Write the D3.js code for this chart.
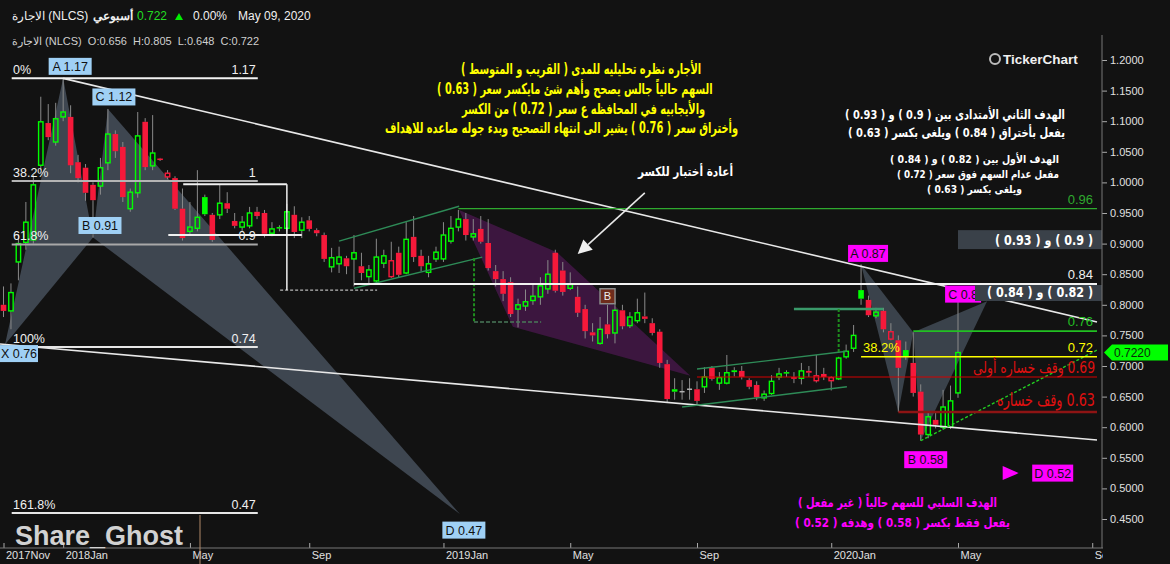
<!DOCTYPE html>
<html><head><meta charset="utf-8">
<script src="https://cdn.jsdelivr.net/npm/d3@7"></script>
<style>
html,body{margin:0;padding:0;background:#121212;}
svg{display:block;}
text{font-family:"Liberation Sans",Arial,sans-serif;}
.ar{font-family:"DejaVu Sans",sans-serif;font-weight:bold;direction:rtl;unicode-bidi:embed;}
</style></head><body>
<svg id="c" width="1170" height="564"></svg>
<script>
// ---------------- DATA ----------------
const opens=[0.80,0.79,0.87,0.902,0.906,1.028,1.097,1.066,1.107,1.107,1.033,1.024,0.996,0.994,1.032,1.079,1.058,0.957,0.983,1.099,1.027,1.039,1.009,1.007,0.957,0.92,0.925,0.976,0.947,0.947,0.966,0.937,0.927,0.929,0.952,0.95,0.917,0.927,0.925,0.947,0.922,0.938,0.922,0.914,0.862,0.867,0.876,0.875,0.863,0.846,0.839,0.868,0.846,0.885,0.852,0.911,0.88,0.853,0.875,0.875,0.904,0.927,0.94,0.911,0.924,0.901,0.855,0.842,0.837,0.793,0.798,0.807,0.813,0.826,0.885,0.856,0.827,0.813,0.793,0.755,0.737,0.768,0.754,0.791,0.766,0.774,0.781,0.77,0.756,0.703,0.662,0.658,0.662,0.662,0.666,0.697,0.672,0.672,0.693,0.692,0.677,0.669,0.648,0.655,0.682,0.69,0.682,0.68,0.692,0.676,0.687,0.676,0.679,0.715,0.729,0.824,0.808,0.782,0.79,0.744,0.742,0.726,0.705,0.658,0.588,0.612,0.60,0.60,0.656];
const highs=[0.83,0.835,0.915,0.968,1.012,1.14,1.128,1.13,1.17,1.126,1.045,1.03,1.0,1.04,1.12,1.085,1.066,0.99,1.115,1.105,1.11,1.04,1.02,1.01,0.99,0.968,1.02,0.98,0.95,0.996,0.984,0.95,0.945,0.96,0.96,0.955,0.935,0.93,0.965,0.961,0.943,0.945,0.925,0.918,0.893,0.895,0.88,0.914,0.885,0.865,0.908,0.89,0.903,0.895,0.935,0.945,0.89,0.88,0.895,0.935,0.945,0.955,0.95,0.94,0.945,0.94,0.865,0.855,0.845,0.81,0.825,0.835,0.845,0.873,0.89,0.87,0.853,0.83,0.80,0.77,0.78,0.80,0.805,0.80,0.788,0.81,0.82,0.778,0.76,0.71,0.68,0.677,0.68,0.675,0.698,0.70,0.69,0.718,0.698,0.70,0.68,0.675,0.66,0.685,0.697,0.693,0.69,0.705,0.70,0.718,0.697,0.683,0.715,0.735,0.767,0.866,0.815,0.795,0.795,0.77,0.75,0.74,0.755,0.67,0.625,0.625,0.661,0.668,0.805];
const lows=[0.78,0.76,0.84,0.89,0.90,1.02,1.069,1.06,1.10,1.015,1.0,0.97,0.91,0.98,1.02,1.04,0.968,0.952,0.975,1.02,1.02,1.035,1.005,0.955,0.905,0.914,0.92,0.945,0.903,0.94,0.95,0.925,0.92,0.925,0.94,0.91,0.912,0.92,0.92,0.909,0.909,0.92,0.912,0.87,0.853,0.852,0.85,0.83,0.84,0.835,0.835,0.86,0.844,0.845,0.85,0.87,0.855,0.845,0.87,0.87,0.90,0.92,0.905,0.905,0.90,0.856,0.83,0.806,0.78,0.763,0.79,0.80,0.80,0.818,0.82,0.815,0.824,0.78,0.745,0.74,0.735,0.745,0.737,0.76,0.762,0.77,0.77,0.75,0.697,0.64,0.645,0.645,0.645,0.636,0.656,0.676,0.661,0.67,0.683,0.678,0.662,0.644,0.643,0.653,0.677,0.682,0.672,0.67,0.682,0.673,0.677,0.66,0.677,0.712,0.723,0.80,0.78,0.778,0.755,0.742,0.625,0.71,0.65,0.578,0.582,0.598,0.596,0.597,0.648];
const closes=[0.79,0.82,0.90,0.935,0.996,1.099,1.074,1.104,1.115,1.028,1.007,0.983,0.971,1.024,1.079,1.051,0.976,0.984,1.076,1.025,1.048,1.037,1.015,0.957,0.909,0.927,0.943,0.948,0.906,0.966,0.957,0.929,0.935,0.95,0.945,0.916,0.924,0.925,0.952,0.919,0.935,0.924,0.917,0.875,0.877,0.878,0.863,0.885,0.852,0.857,0.878,0.88,0.872,0.849,0.907,0.878,0.863,0.867,0.886,0.914,0.925,0.94,0.914,0.916,0.903,0.86,0.842,0.818,0.785,0.80,0.805,0.814,0.831,0.85,0.823,0.821,0.833,0.787,0.757,0.75,0.76,0.752,0.791,0.765,0.78,0.787,0.777,0.754,0.705,0.646,0.658,0.658,0.662,0.643,0.682,0.679,0.681,0.689,0.690,0.682,0.666,0.649,0.654,0.675,0.687,0.688,0.679,0.692,0.689,0.684,0.682,0.681,0.713,0.724,0.75,0.81,0.783,0.788,0.76,0.756,0.697,0.715,0.656,0.588,0.617,0.604,0.633,0.643,0.722];
const xTickIdx=[0,8,25,41,59,76,93,111,128,146];
const xTickLabels=["2017Nov","2018Jan","May","Sep","2019Jan","May","Sep","2020Jan","May","Sep"];
const yTickValues=[0.45,0.5,0.55,0.6,0.65,0.7,0.75,0.8,0.85,0.9,0.95,1.0,1.05,1.1,1.15,1.2];
const lastPrice=0.722;

// harmonic pattern points [candle index, price]
const leftPts={X:[0.2,0.735],A:[8,1.17],B:[12,0.91],C:[14,1.12],D:[61.2,0.458]};
const leftLabels={X:"X 0.76",A:"A 1.17",B:"B 0.91",C:"C 1.12",D:"D 0.47"};
const rightPts={A:[115,0.866],P:[122,0.755],Q:[120,0.625],B:[123,0.578],C:[131.9,0.806],D:[140.7,0.525]};
const rightLabels={A:"A 0.87",B:"B 0.58",C:"C 0.8",D:"D 0.52"};
const purpleZone=[[61.1,0.955],[74.2,0.886],[92.1,0.684],[68.3,0.764]];
const fibHigh=1.17, fibLow=0.731;
const fibRatios=[0,0.382,0.618,1,1.618];
const fibPct=["0%","38.2%","61.8%","100%","161.8%"];
const fibVal=["1.17","1","0.9","0.74","0.47"];
const END=146.64;
const trendA=[8,1.17,END,0.772];
const trendX=[-0.47,0.736,END,0.579];
const channel1=[[45,0.904,61.1,0.961],[47,0.827,64.2,0.878]];
const channel2=[[93,0.695,113.1,0.724],[91,0.633,113.1,0.666]];
const levelLines=[
 {p:0.834,i0:47,label:"0.84",color:"#f2f2f2",w:2},
 {p:0.957,i0:61,label:"0.96",color:"#2faa2f",w:1.2},
 {p:0.757,i0:122,label:"0.76",color:"#22c022",w:1.6},
 {p:0.715,i0:115,label:"0.72",color:"#ffff00",w:1.6},
 {p:0.682,i0:93,label:"",color:"#d40000",w:1.2},
 {p:0.625,i0:120,label:"",color:"#8e1414",w:2.5}
];
const arText={
 y1:"الأجاره نظره تحليليه للمدى (  القريب و المتوسط )",
 y2:"السهم حالياً جالس يصحح وأهم شئ مايكسر سعر ( 0.63 )",
 y3:"والأيجابيه في المحافظه ع سعر ( 0.72 ) من الكسر",
 y4:"وأختراق سعر ( 0.76 ) يشير الى انتهاء التصحيح وبدء جوله صاعده للاهداف",
 retest:"أعادة أختبار للكسر",
 t2a:"الهدف الثاني الأمتدادى بين ( 0.9 ) و ( 0.93 )",
 t2b:"يفعل بأختراق ( 0.84 ) ويلغى بكسر ( 0.63 )",
 t1a:"الهدف الأول بين ( 0.82 ) و ( 0.84 )",
 t1b:"مفعل عدام السهم فوق سعر ( 0.72 )",
 t1c:"ويلغى بكسر ( 0.63 )",
 box1:"( 0.9 ) و ( 0.93 )",
 box2:"( 0.82 ) و ( 0.84 )",
 neg1:"الهدف السلبي للسهم حالياً ( غير مفعل )",
 neg2:"يفعل فقط بكسر ( 0.58 ) وهدفه ( 0.52 )",
 stop1:"0.69 وقف خساره أولى",
 stop2:"0.63 وقف خساره"
};

// ---------------- CHART ----------------
const svg=d3.select('#c');
svg.append('rect').attr('width',1170).attr('height',564).attr('fill','#121212');
const xs=d3.scaleLinear().domain([0,128]).range([3.5,958]);
const ys=d3.scaleLinear().domain([0.45,1.2]).range([519,60]);
const P=d=>[xs(d[0]),ys(d[1])];
const defs=svg.append('defs');
defs.append('clipPath').attr('id','plot').append('rect').attr('x',0).attr('y',0).attr('width',1102).attr('height',548);
defs.append('clipPath').attr('id','xax').append('rect').attr('x',0).attr('y',540).attr('width',1103).attr('height',30);
const plot=svg.append('g').attr('clip-path','url(#plot)');

function poly(g,pts,fill,op){g.append('polygon').attr('points',pts.map(P).map(p=>p.join(',')).join(' ')).attr('fill',fill).attr('fill-opacity',op);}
function seg(g,a,b,color,w,dash){const l=g.append('line').attr('x1',xs(a[0])).attr('y1',ys(a[1])).attr('x2',xs(b[0])).attr('y2',ys(b[1])).attr('stroke',color).attr('stroke-width',w);if(dash)l.attr('stroke-dasharray',dash);return l;}

const L=leftPts,R=rightPts;
poly(plot,[L.X,L.A,L.B],'#8ca4c0',0.36);
poly(plot,[L.B,L.C,L.D],'#8ca4c0',0.36);
poly(plot,purpleZone,'#a020a8',0.3);
poly(plot,[R.A,R.P,R.Q],'#8ca4c0',0.33);
poly(plot,[R.P,R.C,R.B],'#8ca4c0',0.33);

// candles
const gC=plot.append('g');
opens.forEach((o,i)=>{
  const c=closes[i],h=highs[i],l=lows[i];
  const prev=i>0?closes[i-1]:o;
  const cx=xs(i);
  const top=ys(Math.max(o,c)),bot=ys(Math.min(o,c));
  const doji=(o===c);
  const col=doji?'#b0b0b0':(c>=prev?'#00ff00':'#f5193a');
  gC.append('line').attr('x1',cx).attr('x2',cx).attr('y1',ys(h)).attr('y2',top).attr('stroke','#8a8a8a').attr('stroke-width',1);
  gC.append('line').attr('x1',cx).attr('x2',cx).attr('y1',bot).attr('y2',ys(l)).attr('stroke','#8a8a8a').attr('stroke-width',1);
  if(doji){gC.append('line').attr('x1',cx-2.5).attr('x2',cx+2.5).attr('y1',top).attr('y2',top).attr('stroke',col).attr('stroke-width',1.5);return;}
  const hollow=c>o;
  if(hollow){gC.append('rect').attr('x',cx-2.2).attr('y',top).attr('width',4.4).attr('height',Math.max(bot-top,1)).attr('fill','none').attr('stroke',col).attr('stroke-width',1.4);}
  else{gC.append('rect').attr('x',cx-2.8).attr('y',top).attr('width',5.6).attr('height',Math.max(bot-top,1.5)).attr('fill',col);}
});

// lines
const gL=plot.append('g');
seg(gL,[trendA[0],trendA[1]],[trendA[2],trendA[3]],'#e8e8e8',1.6);
seg(gL,[trendX[0],trendX[1]],[trendX[2],trendX[3]],'#e8e8e8',1.6);
channel1.concat(channel2).forEach(c=>seg(gL,[c[0],c[1]],[c[2],c[3]],'#2e8b57',1.4));
const fibLevels=fibRatios.map(r=>fibHigh-r*(fibHigh-fibLow));
const fibCol=['#f2f2f2','#b4b4b4','#a8a8a8','#e6e6e6','#e6e6e6'];
fibLevels.forEach((p,k)=>{
  seg(gL,[1.1,p],[34.1,p],fibCol[k],2);
  svg.append('text').attr('x',13).attr('y',ys(p)-4).attr('fill','#f0f0f0').attr('font-size',12.5).text(fibPct[k]);
  svg.append('text').attr('x',xs(34.1)-2).attr('y',ys(p)-4).attr('text-anchor','end').attr('fill','#f0f0f0').attr('font-size',12.5).text(fibVal[k]);
});
seg(gL,[24.1,0.997],[38,0.997],'#f0f0f0',2);
seg(gL,[22.1,0.914],[40,0.914],'#f0f0f0',2);
seg(gL,[38,0.997],[38,0.824],'#f0f0f0',1.5);
seg(gL,[37.1,0.824],[50.1,0.824],'#e0e0e0',1,'3,2');
seg(gL,[63.1,0.876],[63.1,0.772],'#1f8f1f',2,'3,2');
seg(gL,[63.1,0.772],[72.1,0.772],'#4a7a5a',1.5,'4,2');
seg(gL,[106,0.793],[118,0.793],'#3a9a6a',2.5);
seg(gL,[112,0.793],[112,0.723],'#1f8f1f',2,'3,2');
seg(gL,[R.B[0],R.B[1]],[END,0.726],'#22cc22',1.4,'3,2');
levelLines.forEach(d=>{
  seg(gL,[d.i0,d.p],[END,d.p],d.color,d.w);
  if(d.label) svg.append('text').attr('x',1093).attr('y',ys(d.p)-5).attr('text-anchor','end').attr('fill',d.color==='#f2f2f2'?'#f0f0f0':d.color).attr('font-size',13).text(d.label);
});
svg.append('text').attr('x',xs(115)+2).attr('y',ys(0.715)-5).attr('fill','#ffff00').attr('font-size',13).text('38.2%');

// arrow
(function(){const a=P([86,0.983]),b=P([77,0.883]);const dx=b[0]-a[0],dy=b[1]-a[1],len=Math.hypot(dx,dy),ux=dx/len,uy=dy/len;
 const bx=b[0]-14*ux,by=b[1]-14*uy;
 svg.append('line').attr('x1',a[0]).attr('y1',a[1]).attr('x2',bx).attr('y2',by).attr('stroke','#e8e8e8').attr('stroke-width',1.6);
 svg.append('polygon').attr('points',[[b[0],b[1]],[bx-7*uy,by+7*ux],[bx+7*uy,by-7*ux]].map(p=>p.join(',')).join(' ')).attr('fill','#f0f0f0');})();

// B marker
(function(){const p=P([81,0.814]);svg.append('rect').attr('x',p[0]-7.5).attr('y',p[1]-7.5).attr('width',15).attr('height',15).attr('fill','#6e2c1c').attr('stroke','#8a8a8a').attr('stroke-width',1.5);
 svg.append('text').attr('x',p[0]).attr('y',p[1]+4).attr('text-anchor','middle').attr('fill','#eee').attr('font-size',11).text('B');})();

function label(pt,txt,dx,dy,fill,w){const p=P(pt);const cx=p[0]+dx,cy=p[1]+dy;
 svg.append('rect').attr('x',cx-w/2).attr('y',cy-8.5).attr('width',w).attr('height',17).attr('fill',fill);
 svg.append('text').attr('x',cx).attr('y',cy+4.5).attr('text-anchor','middle').attr('fill','#111').attr('font-size',12.5).text(txt);}
label(L.A,leftLabels.A,7,-12,'#9fd0f5',43);
label(L.C,leftLabels.C,6,-12,'#9fd0f5',43);
label(L.B,leftLabels.B,7,-12,'#9fd0f5',43);
label(L.X,leftLabels.X,14,9,'#9fd0f5',38);
label(L.D,leftLabels.D,4,16,'#9fd0f5',43);
label(R.A,rightLabels.A,7,-11,'#ff00ff',40);
label(R.C,rightLabels.C,-24,-7,'#ff00ff',36);
label(R.B,rightLabels.B,5,19,'#ff00ff',43);
label(R.D,rightLabels.D,0,0,'#ff00ff',41);
(function(){const p=P(R.D);svg.append('polygon').attr('points',[[p[0]-50,p[1]-7],[p[0]-34,p[1]],[p[0]-50,p[1]+7]].map(q=>q.join(',')).join(' ')).attr('fill','#ff00ff');})();

svg.append('rect').attr('x',958).attr('y',ys(0.922)).attr('width',144).attr('height',ys(0.891)-ys(0.922)).attr('fill','#3a4149');
svg.append('rect').attr('x',975).attr('y',ys(0.834)+1).attr('width',127).attr('height',16).attr('fill','#3a4149');

// Arabic texts, fitted to measured widths
function ar(txt,left,width,y,size,color,bold){return svg.append('text').attr('class','ar').attr('x',left+width/2).attr('y',y).attr('text-anchor','middle')
  .attr('font-size',size).attr('fill',color).attr('textLength',width).attr('lengthAdjust','spacingAndGlyphs').style('font-weight',bold===false?'normal':'bold').text(txt);}
(function(){
  const keys=['y1','y2','y3','y4'],lefts=[461,437,462,385],ysP=[74,94,114,133];
  const tmp=keys.map(k=>svg.append('text').attr('class','ar').attr('font-size',13).text(arText[k]));
  const nat=tmp.map(t=>t.node().getComputedTextLength());tmp.forEach(t=>t.remove());
  const s=353/nat[3];
  keys.forEach((k,j)=>ar(arText[k],lefts[j],nat[j]*s,ysP[j],15,'#ffff00'));
})();
ar(arText.retest,638,95,176,13,'#ffffff');
ar(arText.t2a,845,220,119,13,'#ffffff');
ar(arText.t2b,848,217,137,13,'#ffffff');
ar(arText.t1a,890,169,163,11,'#ffffff');
ar(arText.t1b,897,162,178,11,'#ffffff');
ar(arText.t1c,927,95,193,11,'#ffffff');
ar(arText.box1,995,98,245,13.5,'#ffffff');
ar(arText.box2,987,106,297,13.5,'#ffffff');
ar(arText.neg1,798,199,507,13,'#ff00ff');
ar(arText.neg2,795,215,527,13,'#ff00ff');
ar(arText.stop1,973,122,373,16,'#e01010',false);
ar(arText.stop2,997,98,406,18,'#e01010',false);

// axes
const ax=svg.append('g').attr('transform','translate(1102,0)').call(d3.axisRight(ys).tickValues(yTickValues).tickFormat(d3.format('.4f')).tickSize(5).tickPadding(3));
ax.select('.domain').remove();
ax.selectAll('line').attr('stroke','#aaa');
ax.selectAll('text').attr('fill','#e0e0e0').attr('font-size',11).attr('font-family','Liberation Sans, Arial, sans-serif');
svg.append('line').attr('x1',1102).attr('x2',1102).attr('y1',35).attr('y2',548).attr('stroke','#777');
const bx=svg.append('g').attr('clip-path','url(#xax)').append('g').attr('transform','translate(0,548)').call(d3.axisBottom(xs).tickValues(xTickIdx).tickFormat((d,i)=>xTickLabels[i]).tickSize(-5).tickPadding(3));
bx.select('.domain').remove();
bx.selectAll('line').attr('stroke','#aaa');
bx.selectAll('text').attr('text-anchor','start').attr('dx',2).attr('fill','#e0e0e0').attr('font-size',11).attr('font-family','Liberation Sans, Arial, sans-serif');
svg.append('line').attr('x1',0).attr('x2',1103).attr('y1',548).attr('y2',548).attr('stroke','#777');

(function(){const y=ys(lastPrice);svg.append('polygon').attr('points',[[1104,y],[1112,y-8],[1168,y-8],[1168,y+8],[1112,y+8]].map(p=>p.join(',')).join(' ')).attr('fill','#00ff00');
 svg.append('text').attr('x',1114).attr('y',y+4.5).attr('fill','#0b2a0b').attr('font-size',12).text(lastPrice.toFixed(4));})();

svg.append('line').attr('x1',200).attr('x2',200).attr('y1',515).attr('y2',564).attr('stroke','#b08868').attr('stroke-width',1);
svg.append('text').attr('x',15).attr('y',545).attr('fill','#d2d2d2').attr('font-size',27).attr('font-weight','bold').text('Share_Ghost');

const hd=svg.append('g');
hd.append('text').attr('x',12).attr('y',20).attr('fill','#f0f0f0').attr('font-size',12).style('direction','ltr').text('الاجارة (NLCS)');
hd.append('text').attr('x',93).attr('y',20).attr('fill','#f0f0f0').attr('font-size',12).attr('font-weight','bold').text('أسبوعي');
hd.append('text').attr('x',137).attr('y',20).attr('fill','#22dd22').attr('font-size',12).text(closes[closes.length-1].toFixed(3));
hd.append('polygon').attr('points','175,20 179,13 183,20').attr('fill','#00ee00');
hd.append('text').attr('x',193).attr('y',20).attr('fill','#f0f0f0').attr('font-size',12).text('0.00%');
hd.append('text').attr('x',238).attr('y',20).attr('fill','#f0f0f0').attr('font-size',12).text('May 09, 2020');
hd.append('text').attr('x',12).attr('y',45).attr('fill','#cfcfcf').attr('font-size',11).style('white-space','pre').style('direction','ltr')
 .text('الاجارة (NLCS)  O:'+opens[128].toFixed(3)+'  H:'+highs[128].toFixed(3)+'  L:'+lows[128].toFixed(3)+'  C:'+closes[128].toFixed(3));
svg.append('circle').attr('cx',995).attr('cy',59).attr('r',5).attr('fill','none').attr('stroke','#bbb').attr('stroke-width',2);
svg.append('text').attr('x',1003).attr('y',64).attr('fill','#f0f0f0').attr('font-size',13.5).attr('font-weight','bold').text('TickerChart');
</script>
</body></html>
